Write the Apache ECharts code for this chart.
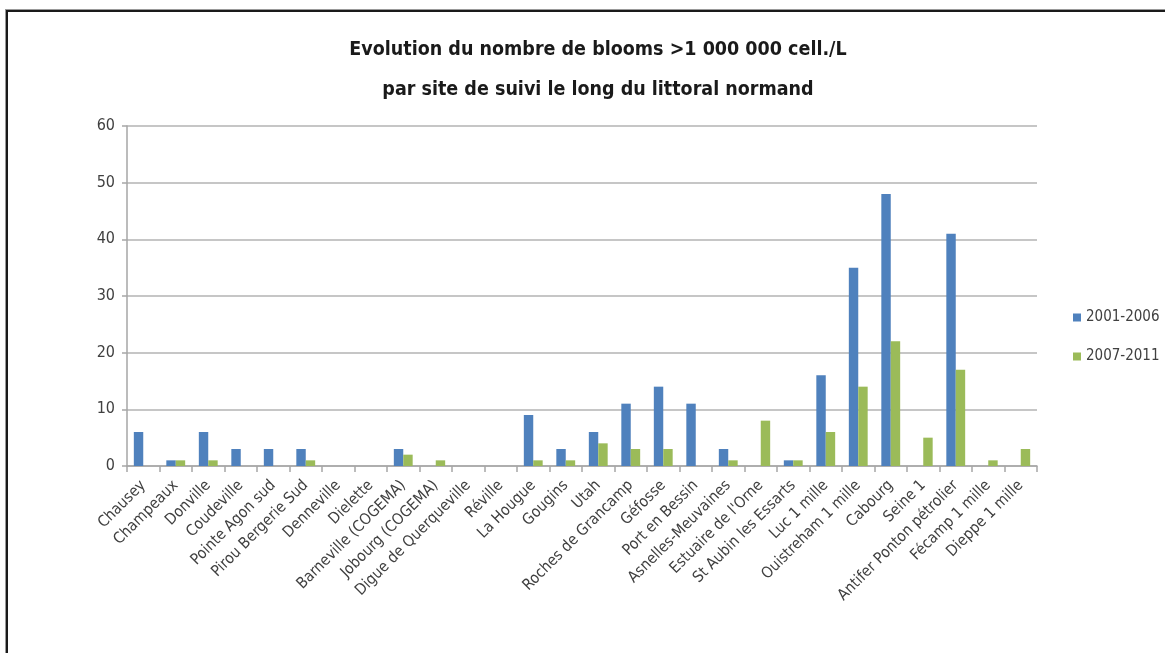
<!DOCTYPE html>
<html>
<head>
<meta charset="utf-8">
<script src="https://cdn.jsdelivr.net/npm/echarts@6/dist/echarts.min.js"></script>
<style>
  html, body { margin: 0; padding: 0; background: #fff; }
  #wrap { position: relative; width: 1165px; height: 653px; overflow: hidden; }
  #chart { width: 1165px; height: 653px; }
  #frame {
    position: absolute; left: 6px; top: 10px; width: 1200px; height: 700px;
    border-top: 2px solid #1a1a1a; border-left: 2px solid #1a1a1a;
    box-shadow: -1px -1px 0 #999; pointer-events: none;
  }
</style>
</head>
<body>
<div id="wrap">
  <div id="chart"></div>
  <div id="frame"></div>
</div>
<script>
// Sites de suivi, du sud-ouest (Manche) vers l'est (Seine-Maritime)
const sites = [
  'Chausey', 'Champeaux', 'Donville', 'Coudeville', 'Pointe Agon sud',
  'Pirou Bergerie Sud', 'Denneville', 'Dielette', 'Barneville (COGEMA)',
  'Jobourg (COGEMA)', 'Digue de Querqueville', 'Réville', 'La Hougue',
  'Gougins', 'Utah', 'Roches de Grancamp', 'Géfosse', 'Port en Bessin',
  'Asnelles-Meuvaines', "Estuaire de l'Orne", 'St Aubin les Essarts',
  'Luc 1 mille', 'Ouistreham 1 mille', 'Cabourg', 'Seine 1',
  'Antifer Ponton pétrolier', 'Fécamp 1 mille', 'Dieppe 1 mille'
];

// Nombre de blooms > 1 000 000 cell./L par période
const blooms2001_2006 = [6, 1, 6, 3, 3, 3, 0, 0, 3, 0, 0, 0, 9, 3, 6, 11, 14, 11, 3, 0, 1, 16, 35, 48, 0, 41, 0, 0];
const blooms2007_2011 = [0, 1, 1, 0, 0, 1, 0, 0, 2, 1, 0, 0, 1, 1, 4, 3, 3, 0, 1, 8, 1, 6, 14, 22, 5, 17, 1, 3];

const periods = ['2001-2006', '2007-2011'];
const yTicks = [0, 10, 20, 30, 40, 50, 60];

const narrow = '"Liberation Sans Narrow", "DejaVu Sans Condensed", "Open Sans", sans-serif';
const textColor = '#404040';

const chart = echarts.init(document.getElementById('chart'), null, { renderer: 'canvas' });

chart.setOption({
  animation: false,
  backgroundColor: '#fff',
  title: {
    text: 'Evolution du nombre de blooms >1 000 000 cell./L\npar site de suivi le long du littoral normand',
    left: 593,
    textAlign: 'center',
    top: 25,
    textStyle: {
      fontFamily: narrow,
      fontWeight: 'bold',
      fontSize: 19.5,
      lineHeight: 40,
      color: '#1a1a1a'
    }
  },
  legend: {
    orient: 'vertical',
    left: 1068,
    top: 305,
    itemWidth: 8,
    itemHeight: 8,
    itemGap: 24,
    icon: 'rect',
    data: periods,
    textStyle: { fontFamily: narrow, fontSize: 15, color: textColor }
  },
  grid: {
    left: 127,
    right: 128,
    top: 126,
    bottom: 187,
    containLabel: false
  },
  xAxis: {
    type: 'category',
    data: sites,
    boundaryGap: true,
    axisLine: { lineStyle: { color: '#a6a6a6', width: 1.5 } },
    axisTick: { show: true, length: 6, lineStyle: { color: '#a6a6a6', width: 1.5 } },
    axisLabel: {
      interval: 0,
      rotate: 45,
      margin: 17,
      fontFamily: narrow,
      fontSize: 15.5,
      color: textColor
    }
  },
  yAxis: {
    type: 'value',
    min: yTicks[0],
    max: yTicks[yTicks.length - 1],
    interval: 10,
    axisLine: { show: true, lineStyle: { color: '#a6a6a6', width: 1.5 } },
    axisTick: { show: true, length: 5, inside: false, lineStyle: { color: '#a6a6a6', width: 1.5 } },
    splitLine: { lineStyle: { color: '#b3b3b3', width: 1.5 } },
    axisLabel: {
      margin: 12,
      fontFamily: narrow,
      fontSize: 16,
      color: textColor
    }
  },
  series: [
    {
      name: periods[0],
      type: 'bar',
      data: blooms2001_2006,
      barGap: '0%',
      barCategoryGap: '42%',
      itemStyle: { color: '#4F81BD' }
    },
    {
      name: periods[1],
      type: 'bar',
      data: blooms2007_2011,
      barGap: '0%',
      barCategoryGap: '42%',
      itemStyle: { color: '#9BBB59' }
    }
  ]
});
</script>
</body>
</html>
